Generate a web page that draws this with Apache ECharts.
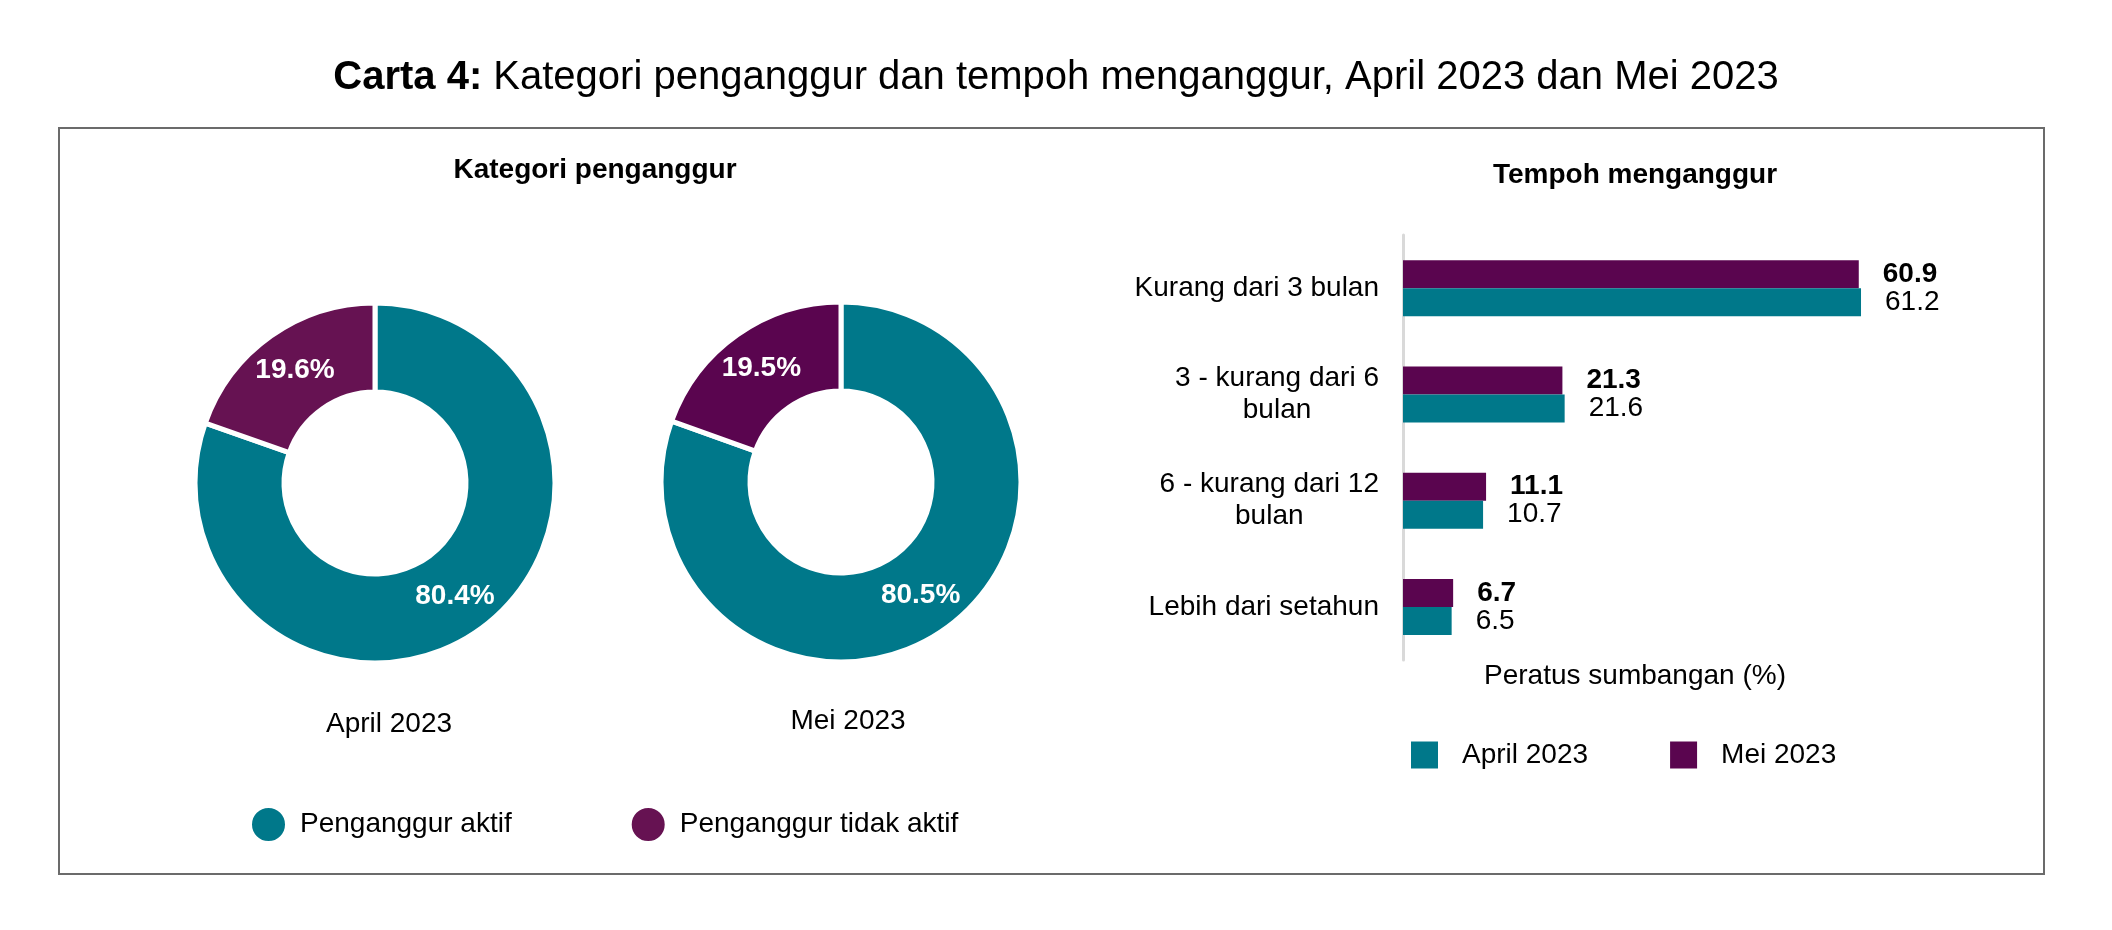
<!DOCTYPE html>
<html lang="ms" style="height: 100%">
<head>
<meta charset="utf-8">
<title>Carta 4</title>
</head>
<body style="height: 100%; margin: 0; background: #fff">
<div id="container" style="height: 100%"></div>

<script type="text/javascript" src="https://cdn.jsdelivr.net/npm/echarts/dist/echarts.min.js"></script>

<script type="text/javascript">

var dom = document.getElementById('container');
var myChart = echarts.init(dom);

// data
var months = ['April 2023', 'Mei 2023'];
var kategoriNames = ['Penganggur aktif', 'Penganggur tidak aktif'];
var aktif = [80.4, 80.5];
var tidakAktif = [19.6, 19.5];

var tempohCats = ['Kurang dari 3 bulan', '3 - kurang dari 6\nbulan', '6 - kurang dari 12\nbulan', 'Lebih dari setahun'];
var tempohApril = [61.2, 21.6, 10.7, 6.5];
var tempohMei = [60.9, 21.3, 11.1, 6.7];

var FONT = '"Liberation Sans", Arial, sans-serif';
var FS = 28;
var TEAL = '#00788a';
var PURPLE_APR = '#661252';
var PURPLE_MEI = '#5a054f';

function donut(idx, cx, cy, purple) {
    return {
        name: 'kategori-' + months[idx],
        type: 'pie',
        center: [cx, cy],
        radius: [91, 180],
        startAngle: 90,
        clockwise: true,
        silent: true,
        itemStyle: { borderColor: '#fff', borderWidth: 5 },
        label: {
            position: 'inside',
            formatter: '{c}%',
            color: '#fff',
            fontWeight: 'bold',
            fontSize: FS,
            fontFamily: FONT
        },
        labelLine: { show: false },
        data: [
            { name: kategoriNames[0], value: aktif[idx], itemStyle: { color: TEAL } },
            { name: kategoriNames[1], value: tidakAktif[idx], itemStyle: { color: purple } }
        ]
    };
}

function centerLines(v) {
    return v.split('\n').map(function (s) { return '{c|' + s + '}'; }).join('\n');
}

option = {
    animation: false,
    textStyle: { fontFamily: FONT, color: '#000' },
    title: {
        text: '{b|Carta 4:} Kategori penganggur dan tempoh menganggur, April 2023 dan Mei 2023',
        left: 'center',
        top: 49,
        textStyle: {
            fontSize: 40,
            fontWeight: 'normal',
            color: '#000',
            lineHeight: 48,
            fontFamily: FONT,
            rich: {
                b: { fontSize: 40, fontWeight: 'bold', color: '#000', lineHeight: 48, fontFamily: FONT }
            }
        }
    },
    graphic: [
        {
            type: 'rect',
            shape: { x: 59, y: 128, width: 1985, height: 746 },
            style: { fill: 'none', stroke: '#6b6b6b', lineWidth: 2 },
            silent: true
        },
        {
            type: 'text', x: 595, y: 170,
            style: { text: 'Kategori penganggur', font: 'bold ' + FS + 'px ' + FONT, fill: '#000', textAlign: 'center', textVerticalAlign: 'middle' }
        },
        {
            type: 'text', x: 1635, y: 175,
            style: { text: 'Tempoh menganggur', font: 'bold ' + FS + 'px ' + FONT, fill: '#000', textAlign: 'center', textVerticalAlign: 'middle' }
        },
        {
            type: 'text', x: 389, y: 724,
            style: { text: months[0], font: FS + 'px ' + FONT, fill: '#000', textAlign: 'center', textVerticalAlign: 'middle' }
        },
        {
            type: 'text', x: 848, y: 721,
            style: { text: months[1], font: FS + 'px ' + FONT, fill: '#000', textAlign: 'center', textVerticalAlign: 'middle' }
        }
    ],
    legend: [
        {
            data: kategoriNames,
            left: 250,
            top: 806,
            padding: 0,
            icon: 'circle',
            itemWidth: 35,
            itemHeight: 35,
            itemGap: 118,
            selectedMode: false,
            textStyle: { fontSize: FS, color: '#000', fontFamily: FONT, padding: [0, 0, 0, 9] }
        },
        {
            data: months,
            left: 1411,
            top: 741,
            padding: 0,
            icon: 'rect',
            itemWidth: 27,
            itemHeight: 27,
            itemGap: 82,
            selectedMode: false,
            textStyle: { fontSize: FS, color: '#000', fontFamily: FONT, padding: [0, 0, 0, 19] }
        }
    ],
    grid: {
        left: 1403,
        top: 235,
        width: 464,
        height: 425
    },
    xAxis: {
        type: 'value',
        min: 0,
        max: 62,
        name: 'Peratus sumbangan (%)',
        nameLocation: 'middle',
        nameGap: 2,
        nameTextStyle: { fontSize: FS, color: '#000', fontFamily: FONT },
        axisLine: { show: false },
        axisTick: { show: false },
        axisLabel: { show: false },
        splitLine: { show: false }
    },
    yAxis: {
        type: 'category',
        inverse: true,
        data: tempohCats,
        axisLine: { show: true, lineStyle: { color: '#d9d9d9', width: 3 } },
        axisTick: { show: false },
        axisLabel: {
            margin: 24,
            formatter: centerLines,
            rich: {
                c: { align: 'center', fontSize: FS, lineHeight: 32, color: '#000', fontFamily: FONT }
            }
        }
    },
    series: [
        donut(0, 375, 483, PURPLE_APR),
        donut(1, 841, 482, PURPLE_MEI),
        {
            name: months[1],
            type: 'bar',
            barWidth: 28,
            barGap: '0%',
            silent: true,
            itemStyle: { color: PURPLE_MEI },
            label: {
                show: true,
                position: 'right',
                distance: 24,
                fontSize: FS,
                fontWeight: 'bold',
                color: '#000',
                fontFamily: FONT
            },
            data: tempohMei
        },
        {
            name: months[0],
            type: 'bar',
            barWidth: 28,
            barGap: '0%',
            silent: true,
            itemStyle: { color: TEAL },
            label: {
                show: true,
                position: 'right',
                distance: 24,
                fontSize: FS,
                color: '#000',
                fontFamily: FONT
            },
            data: tempohApril
        }
    ]
};

if (option && typeof option === 'object') {
    myChart.setOption(option);
}

window.addEventListener('resize', myChart.resize);
</script>
</body>
</html>
